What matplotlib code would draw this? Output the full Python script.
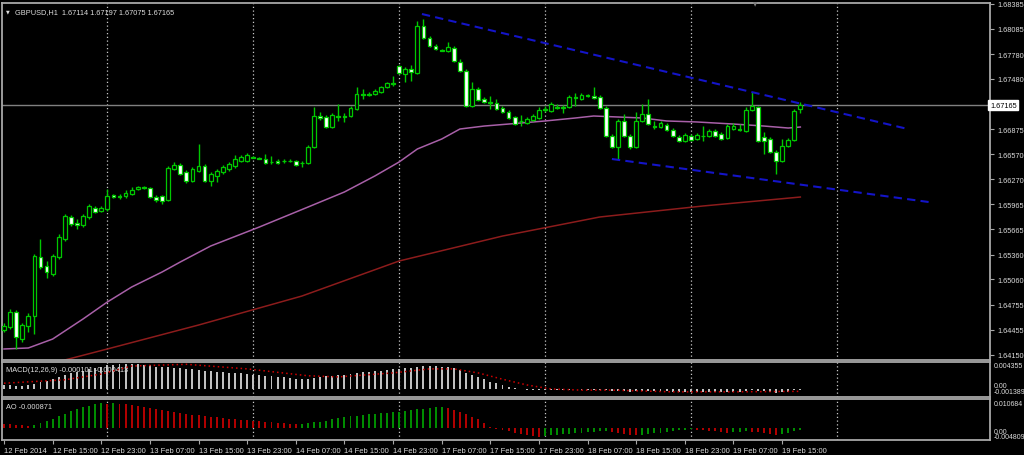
import matplotlib
matplotlib.use("Agg")
import matplotlib.pyplot as plt

W, H = 1024, 456

# ---- GBPUSD H1 candles (bar 0 = 12 Feb 2014 07:00) ----
bar_open = [
    1.64450, 1.64486, 1.64667, 1.64341, 1.64498, 1.64619, 1.65331, 1.65222, 1.65126, 1.65331,
    1.65548, 1.65814, 1.65741, 1.65717, 1.65814, 1.65922, 1.65886, 1.65910, 1.66079, 1.66067,
    1.66067, 1.66091, 1.66152, 1.66176, 1.66164, 1.66055, 1.66067, 1.66019, 1.66393, 1.66441,
    1.66357, 1.66248, 1.66369, 1.66429, 1.66248, 1.66309, 1.66357, 1.66393, 1.66429, 1.66490,
    1.66490, 1.66538, 1.66526, 1.66514, 1.66478, 1.66490, 1.66490, 1.66490, 1.66490, 1.66466,
    1.66466, 1.66659, 1.67033, 1.67021, 1.66900, 1.67033, 1.67033, 1.67033, 1.67117, 1.67298,
    1.67298, 1.67298, 1.67322, 1.67383, 1.67431, 1.67636, 1.67540, 1.67600, 1.67552, 1.68119,
    1.67974, 1.67878, 1.67829, 1.67817, 1.67854, 1.67685, 1.67576, 1.67154, 1.67359, 1.67238,
    1.67202, 1.67190, 1.67129, 1.67081, 1.67021, 1.66973, 1.66948, 1.66985, 1.67009, 1.67117,
    1.67093, 1.67141, 1.67141, 1.67141, 1.67262, 1.67238, 1.67286, 1.67274, 1.67262, 1.67129,
    1.66792, 1.66659, 1.66973, 1.66792, 1.66659, 1.66973, 1.67057, 1.66912, 1.66900, 1.66924,
    1.66864, 1.66779, 1.66731, 1.66792, 1.66755, 1.66792, 1.66792, 1.66852, 1.66816, 1.66767,
    1.66876, 1.66876, 1.66852, 1.67105, 1.67141, 1.66779, 1.66755, 1.66598, 1.66490, 1.66671,
    1.66743, 1.67114]
bar_high = [
    1.64534, 1.64703, 1.64691, 1.64534, 1.64655, 1.65367, 1.65548, 1.65283, 1.65367, 1.65609,
    1.65850, 1.65838, 1.65790, 1.65850, 1.65971, 1.65947, 1.65947, 1.66152, 1.66091, 1.66091,
    1.66140, 1.66176, 1.66188, 1.66188, 1.66176, 1.66079, 1.66079, 1.66429, 1.66478, 1.66466,
    1.66381, 1.66417, 1.66695, 1.66454, 1.66357, 1.66393, 1.66441, 1.66478, 1.66562, 1.66562,
    1.66586, 1.66550, 1.66538, 1.66574, 1.66550, 1.66514, 1.66514, 1.66514, 1.66502, 1.66490,
    1.66683, 1.67141, 1.67081, 1.67045, 1.67069, 1.67178, 1.67069, 1.67154, 1.67383, 1.67359,
    1.67322, 1.67359, 1.67395, 1.67443, 1.67516, 1.67648, 1.67624, 1.67648, 1.68179, 1.68204,
    1.67998, 1.67902, 1.67842, 1.67926, 1.67878, 1.67721, 1.67600, 1.67443, 1.67383, 1.67262,
    1.67274, 1.67238, 1.67154, 1.67105, 1.67033, 1.67045, 1.67021, 1.67057, 1.67141, 1.67154,
    1.67202, 1.67178, 1.67166, 1.67286, 1.67310, 1.67310, 1.67298, 1.67383, 1.67286, 1.67154,
    1.66816, 1.66997, 1.67057, 1.66816, 1.67081, 1.67178, 1.67238, 1.66973, 1.66973, 1.66948,
    1.66888, 1.66804, 1.66828, 1.66816, 1.66828, 1.66912, 1.66876, 1.66876, 1.66840, 1.66936,
    1.66948, 1.66936, 1.67141, 1.67322, 1.67154, 1.66840, 1.66779, 1.66623, 1.66755, 1.66767,
    1.67117, 1.67197]
bar_low = [
    1.64426, 1.64462, 1.64221, 1.64305, 1.64426, 1.64402, 1.65186, 1.65078, 1.65102, 1.65307,
    1.65524, 1.65705, 1.65669, 1.65693, 1.65790, 1.65862, 1.65874, 1.65886, 1.66043, 1.66031,
    1.66043, 1.66079, 1.66140, 1.66152, 1.66043, 1.65995, 1.65971, 1.66007, 1.66381, 1.66321,
    1.66224, 1.66236, 1.66357, 1.66236, 1.66188, 1.66236, 1.66333, 1.66369, 1.66405, 1.66478,
    1.66478, 1.66526, 1.66514, 1.66454, 1.66454, 1.66454, 1.66466, 1.66478, 1.66429, 1.66417,
    1.66454, 1.66647, 1.66985, 1.66888, 1.66888, 1.66973, 1.66961, 1.67021, 1.67105, 1.67238,
    1.67274, 1.67286, 1.67310, 1.67371, 1.67395, 1.67540, 1.67443, 1.67455, 1.67540, 1.67962,
    1.67866, 1.67829, 1.67817, 1.67805, 1.67685, 1.67564, 1.67141, 1.67141, 1.67214, 1.67190,
    1.67117, 1.67105, 1.67069, 1.66997, 1.66924, 1.66912, 1.66936, 1.66973, 1.66997, 1.67081,
    1.67081, 1.67117, 1.67069, 1.67129, 1.67154, 1.67226, 1.67262, 1.67238, 1.67117, 1.66779,
    1.66647, 1.66514, 1.66779, 1.66635, 1.66647, 1.66961, 1.66924, 1.66876, 1.66888, 1.66852,
    1.66779, 1.66719, 1.66719, 1.66731, 1.66743, 1.66731, 1.66779, 1.66779, 1.66743, 1.66755,
    1.66864, 1.66852, 1.66840, 1.67093, 1.66719, 1.66574, 1.66586, 1.66333, 1.66478, 1.66659,
    1.66731, 1.67075]
bar_close = [
    1.64498, 1.64667, 1.64365, 1.64510, 1.64619, 1.65343, 1.65210, 1.65150, 1.65343, 1.65572,
    1.65826, 1.65729, 1.65717, 1.65826, 1.65947, 1.65874, 1.65922, 1.66067, 1.66055, 1.66055,
    1.66103, 1.66140, 1.66176, 1.66170, 1.66055, 1.66019, 1.66007, 1.66405, 1.66441, 1.66333,
    1.66248, 1.66393, 1.66429, 1.66248, 1.66333, 1.66369, 1.66417, 1.66454, 1.66514, 1.66538,
    1.66562, 1.66532, 1.66520, 1.66466, 1.66472, 1.66466, 1.66484, 1.66484, 1.66441, 1.66460,
    1.66659, 1.67033, 1.67009, 1.66900, 1.67045, 1.67027, 1.67027, 1.67129, 1.67298, 1.67292,
    1.67292, 1.67335, 1.67383, 1.67431, 1.67425, 1.67552, 1.67600, 1.67564, 1.68119, 1.67974,
    1.67878, 1.67842, 1.67823, 1.67866, 1.67697, 1.67576, 1.67154, 1.67359, 1.67226, 1.67202,
    1.67196, 1.67117, 1.67081, 1.67009, 1.66936, 1.66967, 1.66997, 1.67033, 1.67105, 1.67111,
    1.67178, 1.67135, 1.67135, 1.67262, 1.67256, 1.67286, 1.67280, 1.67250, 1.67129, 1.66792,
    1.66659, 1.66973, 1.66792, 1.66659, 1.66973, 1.67057, 1.66936, 1.66906, 1.66948, 1.66864,
    1.66792, 1.66731, 1.66804, 1.66743, 1.66804, 1.66786, 1.66852, 1.66792, 1.66755, 1.66912,
    1.66912, 1.66870, 1.67105, 1.67154, 1.66731, 1.66731, 1.66598, 1.66490, 1.66671, 1.66743,
    1.67093, 1.67165]

# moving averages (read at sample bars)
ma_fast_bar = [0, 4, 8, 13, 17, 21, 26, 29, 34, 42, 50, 56, 61, 65, 68, 72, 75, 79, 83, 89,
               94, 97, 101, 105, 109, 114, 120, 125, 129, 131]
ma_fast = [1.64221, 1.64233, 1.64341, 1.64583, 1.64788, 1.64969, 1.65150, 1.65271, 1.65464, 1.65693,
           1.65934, 1.66116, 1.66309, 1.66478, 1.66635, 1.66755, 1.66876, 1.66912, 1.66936, 1.66973,
           1.67009, 1.67033, 1.67021, 1.67009, 1.66973, 1.66961, 1.66936, 1.66912, 1.66888, 1.66900]
ma_slow_bar = [0, 10, 17, 32, 49, 65, 82, 98, 115, 131]
ma_slow = [1.63895, 1.64088, 1.64221, 1.64510, 1.64860, 1.65283, 1.65584, 1.65814, 1.65947, 1.66055]

# channel lines (bar, price)
upper_bar = [68.75, 148.7]
upper_price = [1.68264, 1.66876]
lower_bar = [100.0, 152.1]
lower_price = [1.66514, 1.65995]

last_price = 1.67165
price_ticks = [1.68385, 1.68085, 1.67780, 1.67480, 1.66875, 1.66570, 1.66270,
               1.65965, 1.65665, 1.65360, 1.65060, 1.64755, 1.64455, 1.64150]

# MACD(12,26,9)
macd_hist = [
    0.0007, 0.0007, 0.0006, 0.0006, 0.0007, 0.0009, 0.0012, 0.0014, 0.0017, 0.0020,
    0.0024, 0.0027, 0.0029, 0.0032, 0.0035, 0.0037, 0.0039, 0.0041, 0.0042, 0.0043,
    0.0043, 0.0043, 0.0043, 0.0042, 0.0041, 0.0039, 0.0038, 0.0038, 0.0037, 0.0036,
    0.0035, 0.0034, 0.0033, 0.0032, 0.0031, 0.0030, 0.0029, 0.0028, 0.0028, 0.0027,
    0.0026, 0.0025, 0.0024, 0.0023, 0.0022, 0.0021, 0.0020, 0.0019, 0.0018, 0.0017,
    0.0017, 0.0019, 0.0021, 0.0022, 0.0023, 0.0024, 0.0025, 0.0026, 0.0028, 0.0029,
    0.0030, 0.0031, 0.0032, 0.0033, 0.0034, 0.0035, 0.0036, 0.0036, 0.0039, 0.0040,
    0.0040, 0.0040, 0.0039, 0.0038, 0.0036, 0.0033, 0.0028, 0.0025, 0.0021, 0.0017,
    0.0013, 0.0010, 0.0007, 0.0004, 0.0002, 0.0000, -0.0001, -0.0002, -0.0002, -0.0002,
    -0.0002, -0.0001, -0.0001, -0.0001, 0.0000, -0.0001, -0.0001, -0.0002, -0.0002, -0.0002,
    -0.0003, -0.0003, -0.0004, -0.0005, -0.0004, -0.0003, -0.0003, -0.0003, -0.0003, -0.0004,
    -0.0005, -0.0006, -0.0006, -0.0006, -0.0006, -0.0006, -0.0006, -0.0006, -0.0006, -0.0005,
    -0.0005, -0.0005, -0.0003, -0.0001, -0.0003, -0.0004, -0.0005, -0.0007, -0.0006, -0.0005,
    -0.0002, -0.000101]
sig_bar = [0, 10, 16, 21, 30, 40, 50, 55, 64, 70, 74, 78, 82, 86, 90, 95, 100, 110, 120, 131]
sig_val = [0.0010, 0.0016, 0.0026, 0.0040, 0.0043, 0.0035, 0.0023, 0.0021, 0.0028, 0.0035,
           0.0035, 0.0028, 0.0017, 0.0007, 0.0000, -0.0002, -0.0002, -0.0005, -0.0005, -0.000413]

# Awesome Oscillator
ao_vals = [
    0.0016, 0.0013, 0.0011, 0.0009, 0.0008, 0.0012, 0.0018, 0.0026, 0.0035, 0.0045,
    0.0055, 0.0064, 0.0072, 0.0080, 0.0087, 0.0093, 0.0096, 0.0094, 0.0097, 0.0095,
    0.0093, 0.0091, 0.0087, 0.0082, 0.0078, 0.0073, 0.0069, 0.0066, 0.0063, 0.0059,
    0.0055, 0.0051, 0.0048, 0.0045, 0.0043, 0.0040, 0.0037, 0.0035, 0.0033, 0.0031,
    0.0029, 0.0027, 0.0025, 0.0023, 0.0021, 0.0019, 0.0017, 0.0016, 0.0015, 0.0016,
    0.0018, 0.0021, 0.0024, 0.0028, 0.0032, 0.0036, 0.0040, 0.0044, 0.0046, 0.0050,
    0.0052, 0.0054, 0.0056, 0.0058, 0.0060, 0.0063, 0.0066, 0.0068, 0.0072, 0.0075,
    0.0078, 0.0080, 0.0082, 0.0076, 0.0070, 0.0062, 0.0052, 0.0042, 0.0032, 0.0020,
    0.0003, -0.0004, -0.0010, -0.0015, -0.0020, -0.0025, -0.0029, -0.0033, -0.0036, -0.0034,
    -0.0031, -0.0029, -0.0027, -0.0025, -0.0023, -0.0021, -0.0019, -0.0017, -0.0015, -0.0014,
    -0.0016, -0.0020, -0.0024, -0.0028, -0.0031, -0.0029, -0.0026, -0.0023, -0.0020, -0.0017,
    -0.0014, -0.0011, -0.0009, -0.0007, -0.0008, -0.0010, -0.0012, -0.0015, -0.0018, -0.0020,
    -0.0019, -0.0017, -0.0015, -0.0016, -0.0018, -0.0021, -0.0024, -0.0028, -0.0026, -0.0020,
    -0.0012, -0.000871]

date_labels = ["12 Feb 2014", "12 Feb 15:00", "12 Feb 23:00", "13 Feb 07:00", "13 Feb 15:00",
               "13 Feb 23:00", "14 Feb 07:00", "14 Feb 15:00", "14 Feb 23:00", "17 Feb 07:00",
               "17 Feb 15:00", "17 Feb 23:00", "18 Feb 07:00", "18 Feb 15:00", "18 Feb 23:00",
               "19 Feb 07:00", "19 Feb 15:00"]
day_start_bars = [17, 41, 65, 89, 113, 137]

GREEN = "#00c800"
TXT = "#dcdcdc"
FRAME = "#a8a8a8"
FONT = "Liberation Sans"


def rect(x0, y0, x1, y1):
    # pixel box -> figure fraction
    return [x0 / W, 1 - y1 / H, (x1 - x0) / W, (y1 - y0) / H]


fig = plt.figure(figsize=(W / 100, H / 100), dpi=100, facecolor="black")
ax = fig.add_axes(rect(2, 4, 990, 361))
ax_macd = fig.add_axes(rect(2, 363, 990, 398), sharex=ax)
ax_ao = fig.add_axes(rect(2, 400, 990, 441), sharex=ax)

for a in (ax, ax_macd, ax_ao):
    a.set_facecolor("black")
    for s in a.spines.values():
        s.set_color(FRAME)
        s.set_linewidth(1.3)
    for b in day_start_bars:
        a.axvline(b, color="#c8c8c8", lw=0.9, ls=(0, (1, 2)), zorder=1)
    a.tick_params(axis="both", colors=FRAME, labelcolor=TXT, length=3, width=0.8,
                  labelsize=5.3, pad=2)

ax.set_xlim(-0.33, 162.2)
ax.set_ylim(1.64088, 1.68397)

# candles
n = len(bar_close)
for i in range(n):
    o, h, l, c = bar_open[i], bar_high[i], bar_low[i], bar_close[i]
    ax.plot([i, i], [l, h], color=GREEN, lw=1, zorder=3, solid_capstyle="butt")
    lo, hi = min(o, c), max(o, c)
    face = "black" if c > o else "white"
    if hi - lo < 0.00004:
        ax.plot([i - 0.3, i + 0.3], [c, c], color=GREEN, lw=1.2, zorder=4)
    else:
        ax.bar(i, hi - lo, bottom=lo, width=0.62, facecolor=face, edgecolor=GREEN,
               linewidth=0.9, zorder=4)

ax.plot(ma_fast_bar, ma_fast, color="#a860a8", lw=1.1, zorder=2)
ax.plot(ma_slow_bar, ma_slow, color="#8c1c1c", lw=1.1, zorder=2)

ax.plot(upper_bar, upper_price, color="#1414c8", lw=1.5, ls=(0, (4, 2.5)), zorder=5)
ax.plot(lower_bar, lower_price, color="#1414c8", lw=1.5, ls=(0, (4, 2.5)), zorder=5)

ax.axhline(last_price, color="#808080", lw=1, zorder=2)

ax.yaxis.tick_right()
ax.set_yticks(price_ticks)
ax.set_yticklabels([f"{p:.5f}" for p in price_ticks], family=FONT)
ax.tick_params(axis="x", bottom=False, labelbottom=False)
ax.text(1.0, last_price, f"{last_price:.5f}", transform=ax.get_yaxis_transform(),
        ha="left", va="center", fontsize=5.3, family=FONT, color="black",
        bbox=dict(boxstyle="square,pad=0.25", fc="white", ec="white"))
ax.text(0.004, 0.985, "\u25bc", transform=ax.transAxes, fontsize=3.5, color=TXT,
        ha="left", va="top")
ax.text(0.013, 0.985, "GBPUSD,H1  1.67114 1.67197 1.67075 1.67165", transform=ax.transAxes,
        fontsize=5.3, family=FONT, color=TXT, ha="left", va="top")
fig.text(755 / W, 1 - 5 / H, "\u25bc", fontsize=4, color="#808080", ha="center", va="center")

# MACD panel
ax_macd.set_ylim(-0.0014, 0.0047)
ax_macd.bar(range(n), macd_hist, width=0.32, color="#c0c0c0", zorder=3)
ax_macd.plot(sig_bar, sig_val, color="#d00000", lw=1.1, ls=(0, (1, 2)), zorder=4)
ax_macd.yaxis.tick_right()
ax_macd.set_yticks([])
ax_macd.tick_params(axis="x", bottom=False, labelbottom=False)
ax_macd.text(0.004, 0.9, "MACD(12,26,9) -0.000101 -0.000413", transform=ax_macd.transAxes,
             fontsize=5.3, family=FONT, color=TXT, ha="left", va="top")
for yp, s in [(367, "0.004355"), (387, "0.00"), (393, "-0.001389")]:
    fig.text(994 / W, 1 - yp / H, s, fontsize=5.0, family=FONT, color=TXT, ha="left", va="center")

# AO panel
ax_ao.set_ylim(-0.0049, 0.0113)
ao_colors = ["#b00000" if i > 0 and ao_vals[i] < ao_vals[i - 1] else "#008c00" for i in range(n)]
ao_colors[0] = "#b00000"
ax_ao.bar(range(n), ao_vals, width=0.32, color=ao_colors, zorder=3)
ax_ao.set_yticks([])
ax_ao.text(0.004, 0.9, "AO -0.000871", transform=ax_ao.transAxes,
           fontsize=5.3, family=FONT, color=TXT, ha="left", va="top")
for yp, s in [(405, "0.010684"), (433, "0.00"), (438, "-0.004809")]:
    fig.text(994 / W, 1 - yp / H, s, fontsize=5.0, family=FONT, color=TXT, ha="left", va="center")

ax_ao.set_xticks(range(0, 8 * len(date_labels), 8))
ax_ao.set_xticklabels(date_labels, family=FONT, fontsize=5.5)
for lbl in ax_ao.get_xticklabels():
    lbl.set_ha("left")

fig.savefig("out.png", dpi=100, facecolor="black")
